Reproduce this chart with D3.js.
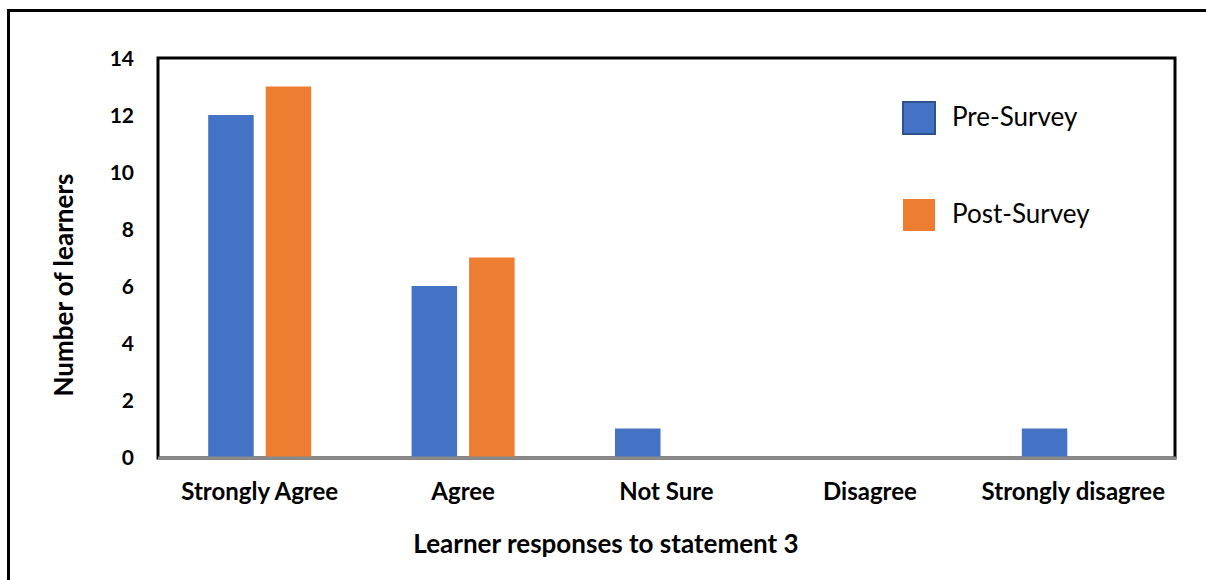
<!DOCTYPE html>
<html>
<head>
<meta charset="utf-8">
<script src="https://cdn.jsdelivr.net/npm/d3@7"></script>
<style>
  html, body { margin: 0; padding: 0; background: #fff; }
  svg { display: block; }
  text { font-family: Lato, "Open Sans", sans-serif; fill: #000; }
</style>
</head>
<body>
<svg id="chart" width="1206" height="580"></svg>
<script>
// Survey responses to statement 3
const categories = ["Strongly Agree", "Agree", "Not Sure", "Disagree", "Strongly disagree"];
const seriesNames = ["Pre-Survey", "Post-Survey"];
const preSurvey = [12, 6, 1, 0, 1];
const postSurvey = [13, 7, 0, 0, 0];
const yTicks = [0, 2, 4, 6, 8, 10, 12, 14];
const colors = ["#4472c4", "#ed7d31"];

const svg = d3.select("#chart");

// Outer chart frame (runs off the right and bottom edges)
svg.append("rect")
  .attr("x", 8.5).attr("y", 10.5)
  .attr("width", 1220).attr("height", 600)
  .attr("fill", "none").attr("stroke", "#000").attr("stroke-width", 3);

const plot = { left: 158, right: 1175, top: 58, bottom: 458 };

const x0 = d3.scaleBand().domain(categories).range([plot.left, plot.right]).padding(0);
const x1 = d3.scaleBand().domain(seriesNames).range([0, x0.bandwidth()])
  .paddingInner(0.209).paddingOuter(0.873);
const y = d3.scaleLinear().domain([0, 14]).range([plot.bottom - 1, plot.top]);

// Plot area border
svg.append("rect")
  .attr("x", plot.left).attr("y", plot.top)
  .attr("width", plot.right - plot.left).attr("height", plot.bottom - plot.top)
  .attr("fill", "none").attr("stroke", "#000").attr("stroke-width", 3);

// Bars
const rows = categories.map((c, i) => ({ cat: c, vals: [preSurvey[i], postSurvey[i]] }));
const groups = svg.append("g").selectAll("g").data(rows).join("g")
  .attr("transform", d => `translate(${x0(d.cat)},0)`);
groups.selectAll("rect")
  .data(d => d.vals.map((v, j) => ({ name: seriesNames[j], v, j })).filter(e => e.v > 0))
  .join("rect")
  .attr("x", e => x1(e.name))
  .attr("width", x1.bandwidth())
  .attr("y", e => y(e.v))
  .attr("height", e => y(0) - y(e.v))
  .attr("fill", e => colors[e.j]);

// X axis line
svg.append("line")
  .attr("x1", plot.left).attr("x2", plot.right + 1)
  .attr("y1", plot.bottom).attr("y2", plot.bottom)
  .attr("stroke", "#8a8a8a").attr("stroke-width", 3);

// Y axis tick labels
const yAxis = d3.axisLeft(y).tickValues(yTicks).tickSize(0).tickPadding(0);
const gy = svg.append("g").attr("transform", `translate(134,0)`).call(yAxis);
gy.select(".domain").remove();
gy.selectAll("text")
  .attr("font-family", "Lato, sans-serif")
  .attr("font-size", 21).attr("font-weight", "bold").attr("fill", "#000")
  .attr("dy", "0.35em");

// X axis category labels
const xAxis = d3.axisBottom(x0).tickSize(0).tickPadding(0);
const gx = svg.append("g").attr("transform", `translate(0,500)`).call(xAxis);
gx.select(".domain").remove();
gx.selectAll("text")
  .attr("font-family", "Lato, sans-serif")
  .attr("font-size", 24).attr("font-weight", "bold").attr("fill", "#000")
  .attr("y", 0).attr("dy", 0);

// Axis titles
svg.append("text")
  .attr("x", 606).attr("y", 553)
  .attr("text-anchor", "middle")
  .attr("font-size", 26).attr("font-weight", "bold")
  .text("Learner responses to statement 3");

svg.append("text")
  .attr("transform", "translate(73,285) rotate(-90)")
  .attr("text-anchor", "middle")
  .attr("font-size", 26).attr("font-weight", "bold")
  .text("Number of learners");

// Legend
const legend = svg.append("g");
const legendY = [102, 199];
seriesNames.forEach((name, i) => {
  legend.append("rect")
    .attr("x", 903).attr("y", legendY[i])
    .attr("width", 32).attr("height", 32)
    .attr("fill", colors[i])
    .attr("stroke", i === 0 ? "#2f528f" : "none")
    .attr("stroke-width", 2);
  legend.append("text")
    .attr("x", 952).attr("y", legendY[i] + 24)
    .attr("font-size", 26)
    .text(name);
});
</script>
</body>
</html>
